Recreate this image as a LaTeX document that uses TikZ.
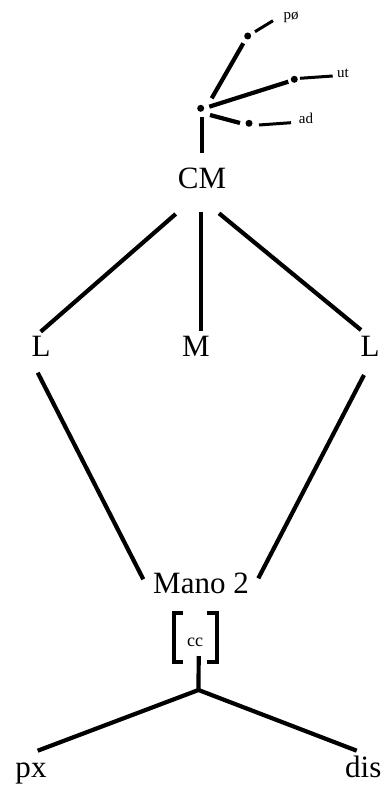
\documentclass[tikz,border=0pt]{standalone}
\usepackage{fontspec}
\setmainfont{Liberation Serif}
\begin{document}
\begin{tikzpicture}[x=1pt,y=-1pt,
  big/.style={inner sep=0pt,anchor=base,font=\fontsize{31}{31}\selectfont},
  small/.style={inner sep=0pt,anchor=base,font=\fontsize{15}{15}\selectfont},
  edge/.style={line width=4.2pt},
  thin edge/.style={line width=3pt},
  dotmark/.style={circle,fill=black,inner sep=0pt,minimum size=7pt}]
\useasboundingbox (0,0) rectangle (384,786);
% top structure
\node[dotmark] (root) at (200.7,108.3) {};
\node[dotmark] (dp) at (247.7,36) {};
\node[dotmark] (du) at (294.3,79.3) {};
\node[dotmark] (da) at (249,123.3) {};
\node[small] (po) at (291,20) {pø};
\node[small] (ut) at (343,77.3) {ut};
\node[small] (ad) at (306,124) {ad};
\coordinate (r1) at (211.7,98.3);
\coordinate (p1) at (243.3,43.3);
\coordinate (r2) at (209.3,106.7);
\coordinate (u1) at (288.3,81.7);
\coordinate (r3) at (210,115);
\coordinate (a1) at (240,123);
\coordinate (p2) at (255,31.7);
\coordinate (p3) at (273,20.7);
\coordinate (u2) at (300,78.3);
\coordinate (u3) at (332.7,76);
\coordinate (a2) at (259,125);
\coordinate (a3) at (291,122.7);
\coordinate (rv1) at (201.7,116.7);
\coordinate (rv2) at (201.7,153.3);
\draw[edge] (r1) -- (p1);
\draw[edge] (r2) -- (u1);
\draw[edge] (r3) -- (a1);
\draw[thin edge] (p2) -- (p3);
\draw[thin edge] (u2) -- (u3);
\draw[thin edge] (a2) -- (a3);
\draw[edge] (rv1) -- (rv2);
% main labels
\node[big] (CM) at (202,188.3) {CM};
\node[big] (L1) at (41,356.7) {L};
\node[big] (M) at (196,356.7) {M};
\node[big] (L2) at (370,356.7) {L};
\node[big] (mano) at (201,593) {Mano 2};
\node[inner sep=0pt,anchor=base,font=\fontsize{18}{18}\selectfont] (cc) at (195,646.7) {cc};
\node[big] (px) at (31,777.5) {px};
\node[big] (dis) at (363.3,777.5) {dis};
% connectors
\coordinate (c1) at (175.7,214);
\coordinate (c2) at (40.7,331.7);
\coordinate (c3) at (201,211.7);
\coordinate (c4) at (201,330.7);
\coordinate (c5) at (219,213.3);
\coordinate (c6) at (361,330);
\draw[edge] (c1) -- (c2);
\draw[edge] (c3) -- (c4);
\draw[edge] (c5) -- (c6);
\coordinate (l1) at (37.7,372.7);
\coordinate (l2) at (143.3,579.3);
\coordinate (l3) at (364,375);
\coordinate (l4) at (258.3,578.3);
\draw[edge] (l1) -- (l2);
\draw[edge] (l3) -- (l4);
% brackets
\coordinate (b1) at (182.7,613.3);
\coordinate (b2) at (174,613.3);
\coordinate (b3) at (174,661.7);
\coordinate (b4) at (182.7,661.7);
\coordinate (b5) at (206.7,613.3);
\coordinate (b6) at (217.3,613.3);
\coordinate (b7) at (217.3,661.7);
\coordinate (b8) at (206.7,661.7);
\draw[edge,line join=miter] (b1) -- (b2) -- (b3) -- (b4);
\draw[edge,line join=miter] (b5) -- (b6) -- (b7) -- (b8);
\coordinate (s1) at (198.7,656);
\coordinate (br) at (198.5,690);
\coordinate (pl) at (37.7,750.7);
\coordinate (dl) at (356.7,750.7);
\draw[edge] (s1) -- (br);
\draw[edge] (pl) -- (br) -- (dl);
\end{tikzpicture}
\end{document}
